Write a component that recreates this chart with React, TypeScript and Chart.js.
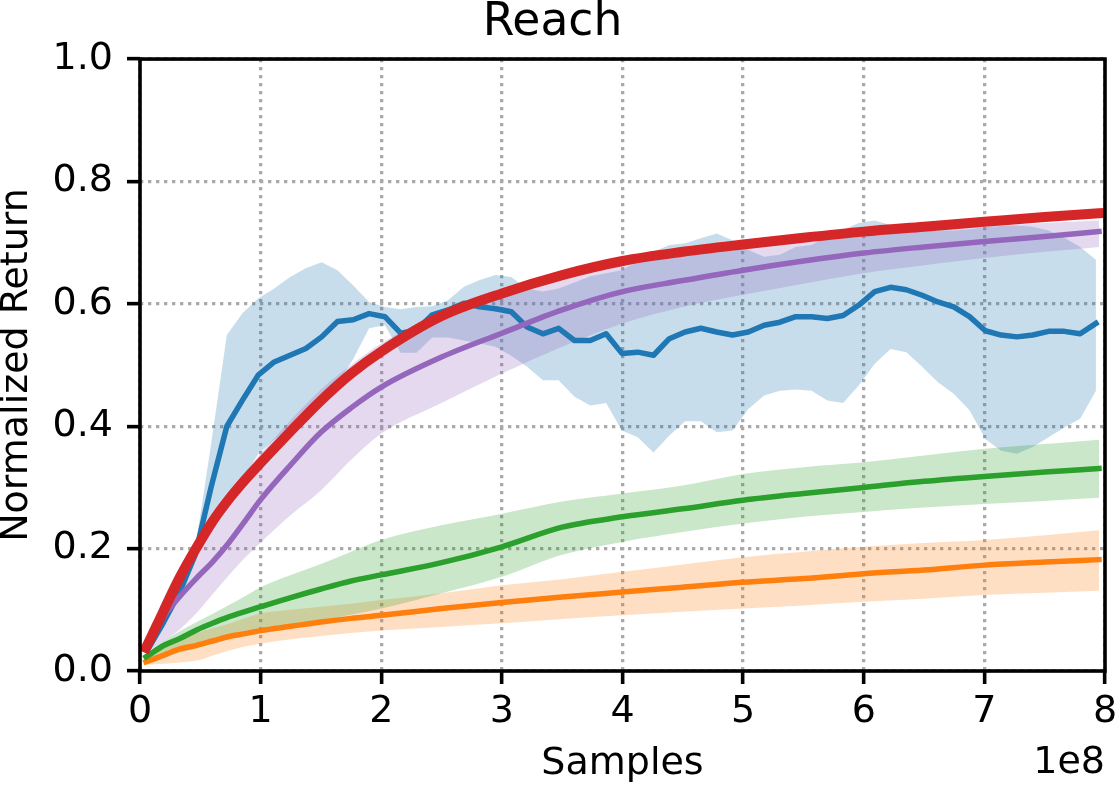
import { useEffect, useRef } from 'react'
import { Chart, ChartConfiguration, Plugin } from 'chart.js/auto'

// x positions (in units of 1e8 samples)
const SMOOTH_X = [0.05, 0.2, 0.33, 0.47, 0.6, 0.73, 0.87, 1.0, 1.25, 1.5, 1.75, 2.0, 2.5, 3.0, 3.5, 4.0, 4.5, 5.0, 5.5, 6.0, 6.5, 7.0, 7.5, 7.95]

const RED_MEAN = [0.038, 0.1, 0.153, 0.202, 0.244, 0.279, 0.312, 0.34, 0.392, 0.442, 0.486, 0.522, 0.58, 0.617, 0.647, 0.67, 0.685, 0.697, 0.708, 0.718, 0.726, 0.734, 0.742, 0.748]

const PURPLE_MEAN = [0.04, 0.09, 0.122, 0.152, 0.178, 0.208, 0.245, 0.28, 0.337, 0.39, 0.43, 0.464, 0.513, 0.552, 0.59, 0.62, 0.638, 0.655, 0.67, 0.683, 0.693, 0.702, 0.71, 0.718]
const PURPLE_HI = [0.05, 0.12, 0.17, 0.215, 0.25, 0.29, 0.325, 0.355, 0.41, 0.46, 0.5, 0.535, 0.585, 0.615, 0.64, 0.665, 0.68, 0.692, 0.703, 0.712, 0.72, 0.727, 0.732, 0.736]
const PURPLE_LO = [0.03, 0.05, 0.068, 0.095, 0.125, 0.155, 0.185, 0.21, 0.255, 0.295, 0.345, 0.388, 0.438, 0.486, 0.53, 0.568, 0.595, 0.615, 0.633, 0.65, 0.663, 0.675, 0.685, 0.693]

const GREEN_MEAN = [0.023, 0.042, 0.053, 0.067, 0.078, 0.088, 0.097, 0.105, 0.12, 0.134, 0.147, 0.157, 0.177, 0.203, 0.235, 0.252, 0.265, 0.279, 0.29, 0.3, 0.31, 0.318, 0.325, 0.331]
const GREEN_HI = [0.028, 0.05, 0.065, 0.08, 0.093, 0.107, 0.122, 0.137, 0.157, 0.175, 0.195, 0.214, 0.238, 0.257, 0.277, 0.29, 0.303, 0.322, 0.333, 0.341, 0.352, 0.363, 0.371, 0.378]
const GREEN_LO = [0.018, 0.025, 0.03, 0.037, 0.045, 0.052, 0.06, 0.066, 0.075, 0.083, 0.092, 0.102, 0.127, 0.154, 0.19, 0.211, 0.227, 0.241, 0.252, 0.26, 0.267, 0.273, 0.278, 0.283]

const ORANGE_MEAN = [0.015, 0.026, 0.036, 0.042, 0.049, 0.056, 0.061, 0.066, 0.073, 0.08, 0.086, 0.091, 0.102, 0.112, 0.121, 0.129, 0.137, 0.145, 0.151, 0.159, 0.165, 0.173, 0.178, 0.182]
const ORANGE_HI = [0.02, 0.04, 0.05, 0.062, 0.07, 0.077, 0.086, 0.094, 0.1, 0.105, 0.11, 0.116, 0.127, 0.14, 0.15, 0.162, 0.174, 0.186, 0.195, 0.203, 0.209, 0.214, 0.222, 0.23]
const ORANGE_LO = [0.01, 0.012, 0.014, 0.017, 0.025, 0.033, 0.04, 0.045, 0.052, 0.057, 0.062, 0.066, 0.072, 0.078, 0.085, 0.091, 0.097, 0.102, 0.107, 0.113, 0.118, 0.124, 0.128, 0.131]

const BLUE_X = [
  0.065, 0.196, 0.327, 0.458, 0.589, 0.72, 0.851, 0.982, 1.113, 1.244,
  1.375, 1.506, 1.637, 1.768, 1.899, 2.03, 2.161, 2.292, 2.423, 2.554,
  2.685, 2.816, 2.947, 3.078, 3.209, 3.34, 3.471, 3.602, 3.733, 3.864,
  3.995, 4.126, 4.257, 4.388, 4.519, 4.65, 4.781, 4.912, 5.043, 5.174,
  5.305, 5.436, 5.567, 5.698, 5.829, 5.96, 6.091, 6.222, 6.353, 6.484,
  6.615, 6.746, 6.877, 7.008, 7.139, 7.27, 7.401, 7.532, 7.663, 7.794,
  7.925,
]
const BLUE_MEAN = [
  0.035, 0.08, 0.128, 0.19, 0.3, 0.4, 0.443, 0.484, 0.505, 0.516,
  0.527, 0.546, 0.571, 0.574, 0.584, 0.579, 0.552, 0.557, 0.582, 0.59,
  0.601, 0.595, 0.592, 0.587, 0.562, 0.551, 0.56, 0.54, 0.54, 0.551,
  0.519, 0.521, 0.516, 0.543, 0.554, 0.56, 0.554, 0.549, 0.554, 0.565,
  0.57, 0.579, 0.579, 0.576, 0.581, 0.598, 0.62, 0.627, 0.623, 0.614,
  0.603, 0.595, 0.579, 0.556, 0.549, 0.546, 0.549, 0.555, 0.555, 0.551,
  0.568,
]
const BLUE_HI = [
  0.04, 0.09, 0.14, 0.2, 0.37, 0.549, 0.585, 0.609, 0.625, 0.644,
  0.658, 0.668, 0.655, 0.63, 0.603, 0.595, 0.591, 0.595, 0.596, 0.606,
  0.628, 0.639, 0.647, 0.644, 0.625, 0.62, 0.625, 0.635, 0.645, 0.65,
  0.655, 0.67, 0.685, 0.696, 0.699, 0.707, 0.715, 0.704, 0.688, 0.677,
  0.68, 0.693, 0.696, 0.71, 0.721, 0.732, 0.736, 0.729, 0.725, 0.722,
  0.72, 0.72, 0.722, 0.725, 0.727, 0.728, 0.726, 0.72, 0.708, 0.693,
  0.672,
]
const BLUE_LO = [
  0.03, 0.07, 0.12, 0.18, 0.235, 0.275, 0.315, 0.355, 0.378, 0.398,
  0.42, 0.443, 0.47, 0.51, 0.56, 0.565, 0.52, 0.52, 0.545, 0.545,
  0.54, 0.535, 0.53, 0.515, 0.497, 0.475, 0.475, 0.448, 0.434, 0.438,
  0.393, 0.382, 0.357, 0.385, 0.408, 0.408, 0.39, 0.393, 0.428, 0.45,
  0.458, 0.46, 0.458, 0.442, 0.438, 0.467, 0.502, 0.526, 0.521, 0.497,
  0.472, 0.453, 0.426, 0.379, 0.36, 0.355, 0.366, 0.382, 0.398, 0.412,
  0.458,
]

const X_TICKS = [0, 1, 2, 3, 4, 5, 6, 7, 8]
const Y_TICKS = [0, 0.2, 0.4, 0.6, 0.8, 1.0]

const FONT = 'DejaVu Sans'

const pts = (xs: number[], ys: number[]) => xs.map((x, i) => ({ x, y: ys[i] }))

function band(xs: number[], hi: number[], lo: number[], color: string, order: number, smooth: boolean) {
  const common = {
    pointRadius: 0,
    borderWidth: 0,
    order,
    cubicInterpolationMode: smooth ? ('monotone' as const) : ('default' as const),
    tension: 0,
  }
  return [
    { ...common, data: pts(xs, hi), backgroundColor: color, fill: '+1' },
    { ...common, data: pts(xs, lo), backgroundColor: color, fill: false },
  ]
}

function meanLine(xs: number[], ys: number[], color: string, width: number, order: number, smooth: boolean) {
  return {
    data: pts(xs, ys),
    borderColor: color,
    borderWidth: width,
    pointRadius: 0,
    fill: false,
    order,
    borderCapStyle: 'square' as const,
    borderJoinStyle: 'round' as const,
    cubicInterpolationMode: smooth ? ('monotone' as const) : ('default' as const),
    tension: 0,
  }
}

const framePlugin: Plugin = {
  id: 'frame',
  afterDraw(chart) {
    const { ctx, chartArea } = chart
    ctx.save()
    ctx.strokeStyle = '#000'
    ctx.lineWidth = 3.6
    ctx.strokeRect(chartArea.left, chartArea.top, chartArea.right - chartArea.left, chartArea.bottom - chartArea.top)
    ctx.fillStyle = '#000'
    ctx.font = `38px "${FONT}"`
    ctx.textAlign = 'right'
    ctx.textBaseline = 'alphabetic'
    ctx.fillText('1e8', chartArea.right, 773)
    ctx.restore()
  },
}

export default function App() {
  const chartRef = useRef<HTMLCanvasElement>(null)
  const chartInstance = useRef<Chart | null>(null)

  useEffect(() => {
    document.body.style.margin = '0'
    if (!chartRef.current) return
    if (chartInstance.current) chartInstance.current.destroy()

    Chart.defaults.font.family = FONT
    Chart.defaults.color = '#000'

    const gridStyle = {
      color: '#a9a9a9',
      lineWidth: 3.3,
      tickLength: 13,
      tickColor: '#000',
      tickWidth: 3.6,
    }

    const config: ChartConfiguration = {
      type: 'line',
      data: {
        datasets: [
          meanLine(SMOOTH_X, RED_MEAN, '#d62728', 10, 0, true),
          meanLine(SMOOTH_X, PURPLE_MEAN, '#9467bd', 5.5, 1, true),
          meanLine(SMOOTH_X, GREEN_MEAN, '#2ca02c', 5.5, 2, true),
          meanLine(SMOOTH_X, ORANGE_MEAN, '#ff7f0e', 5.5, 3, true),
          meanLine(BLUE_X, BLUE_MEAN, '#1f77b4', 5.5, 4, false),
          ...band(SMOOTH_X, PURPLE_HI, PURPLE_LO, 'rgba(148, 103, 189, 0.25)', 10, true),
          ...band(SMOOTH_X, GREEN_HI, GREEN_LO, 'rgba(44, 160, 44, 0.25)', 11, true),
          ...band(SMOOTH_X, ORANGE_HI, ORANGE_LO, 'rgba(255, 127, 14, 0.25)', 12, true),
          ...band(BLUE_X, BLUE_HI, BLUE_LO, 'rgba(31, 119, 180, 0.25)', 13, false),
        ] as any,
      },
      options: {
        responsive: false,
        animation: false,
        layout: { padding: { left: 0, right: 12, top: 0, bottom: 0 } },
        plugins: {
          legend: { display: false },
          tooltip: { enabled: false },
          filler: { drawTime: 'beforeDatasetsDraw' },
          title: {
            display: true,
            text: 'Reach',
            color: '#000',
            font: { family: FONT, size: 45.6, weight: 'normal', lineHeight: 0.9 },
            padding: { top: 3, bottom: 15 },
          },
        },
        scales: {
          x: {
            type: 'linear',
            min: 0,
            max: 8,
            afterBuildTicks: (scale) => {
              scale.ticks = X_TICKS.map((v) => ({ value: v }))
            },
            afterFit: (scale: any) => {
              scale.height = 117
              scale.paddingLeft = 0
              scale.paddingRight = 0
            },
            ticks: {
              font: { size: 38 },
              color: '#000',
              padding: 5,
              maxRotation: 0,
              callback: (v) => String(v),
            },
            grid: gridStyle,
            border: { display: false, dash: [3.3, 4.7] },
            title: {
              display: true,
              text: 'Samples',
              color: '#000',
              font: { size: 38, lineHeight: 0.9 },
              padding: { top: 0, bottom: 7 },
            },
          },
          y: {
            type: 'linear',
            min: 0,
            max: 1,
            afterBuildTicks: (scale) => {
              scale.ticks = Y_TICKS.map((v) => ({ value: v }))
            },
            afterFit: (scale) => {
              scale.width = 140
            },
            ticks: {
              font: { size: 38 },
              color: '#000',
              padding: 14,
              callback: (v) => Number(v).toFixed(1),
            },
            grid: gridStyle,
            border: { display: false, dash: [3.3, 4.7] },
            title: {
              display: true,
              text: 'Normalized Return',
              color: '#000',
              font: { size: 38, lineHeight: 0.9 },
              padding: { top: 0, bottom: 0 },
            },
          },
        },
      },
      plugins: [framePlugin],
    }

    chartInstance.current = new Chart(chartRef.current, config)

    return () => {
      if (chartInstance.current) {
        chartInstance.current.destroy()
        chartInstance.current = null
      }
    }
  }, [])

  return (
    <div style={{ width: 1117, height: 788 }}>
      <canvas ref={chartRef} width={1117} height={788}></canvas>
    </div>
  )
}
